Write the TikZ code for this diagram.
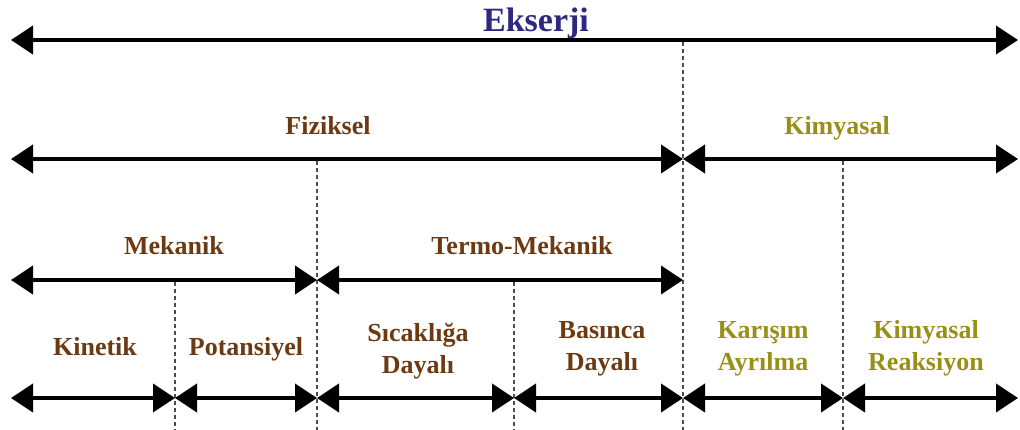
\documentclass[tikz,border=0pt]{standalone}
\usepackage{fontspec}
\setmainfont{Liberation Serif}
\usetikzlibrary{arrows.meta}
\definecolor{ekblue}{RGB}{46,40,128}
\definecolor{fizbrown}{RGB}{108,58,18}
\definecolor{kimolive}{RGB}{152,144,22}
\begin{document}
\begin{tikzpicture}[x=1pt,y=-1pt,
  span/.style={line width=4pt,
    {Triangle[length=22pt,width=28pt]}-{Triangle[length=22pt,width=28pt]}},
  divider/.style={line width=1.1pt, dash pattern=on 4pt off 3pt, black!70},
  lbl/.style={font=\bfseries\fontsize{26}{32}\selectfont, align=center,
    anchor=base, inner sep=0pt},
  fiz/.style={lbl, text=fizbrown},
  kim/.style={lbl, text=kimolive},
]
\useasboundingbox (0,0) rectangle (1020,430);

% tick positions along each level
\coordinate (e1L) at (11,40);   \coordinate (e1R) at (1018,40);
\coordinate (f1L) at (11,159);  \coordinate (f1M) at (683,159);  \coordinate (f1R) at (1018,159);
\coordinate (m1L) at (11,280);  \coordinate (m1M) at (317,280);  \coordinate (m1R) at (683,280);
\coordinate (s0) at (11,398);   \coordinate (s1) at (175,398);   \coordinate (s2) at (317,398);
\coordinate (s3) at (514,398);  \coordinate (s4) at (683,398);   \coordinate (s5) at (843,398);
\coordinate (s6) at (1018,398);

% dashed dividers
\coordinate (dvA0) at (683,42);  \coordinate (dvA1) at (683,430);
\coordinate (dvB0) at (317,161); \coordinate (dvB1) at (317,430);
\coordinate (dvC0) at (843,161); \coordinate (dvC1) at (843,430);
\coordinate (dvD0) at (175,282); \coordinate (dvD1) at (175,430);
\coordinate (dvE0) at (514,282); \coordinate (dvE1) at (514,430);
\draw[divider] (dvA0) -- (dvA1);
\draw[divider] (dvB0) -- (dvB1);
\draw[divider] (dvC0) -- (dvC1);
\draw[divider] (dvD0) -- (dvD1);
\draw[divider] (dvE0) -- (dvE1);

% spans
\draw[span] (e1L) -- (e1R);
\draw[span] (f1L) -- (f1M);
\draw[span] (f1M) -- (f1R);
\draw[span] (m1L) -- (m1M);
\draw[span] (m1M) -- (m1R);
\draw[span] (s0) -- (s1);
\draw[span] (s1) -- (s2);
\draw[span] (s2) -- (s3);
\draw[span] (s3) -- (s4);
\draw[span] (s4) -- (s5);
\draw[span] (s5) -- (s6);

% labels (two-line labels are placed by the baseline of their last line)
\node[lbl, text=ekblue, font=\bfseries\fontsize{34}{40}\selectfont] (ekserji) at (536,32) {Ekserji};
\node[fiz] (fiziksel) at (328,135) {Fiziksel};
\node[kim] (kimyasal) at (837,135) {Kimyasal};
\node[fiz] (mekanik) at (174,255) {Mekanik};
\node[fiz] (termo) at (522,255) {Termo-Mekanik};
\node[fiz] (kinetik) at (95,355) {Kinetik};
\node[fiz] (potansiyel) at (246,355) {Potansiyel};
\node[fiz] (sicaklik) at (418,373) {Sıcaklığa\\Dayalı};
\node[fiz] (basinc) at (602,370) {Basınca\\Dayalı};
\node[kim] (karisim) at (763,370) {Karışım\\Ayrılma};
\node[kim] (reaksiyon) at (926,370) {Kimyasal\\Reaksiyon};
\end{tikzpicture}
\end{document}
